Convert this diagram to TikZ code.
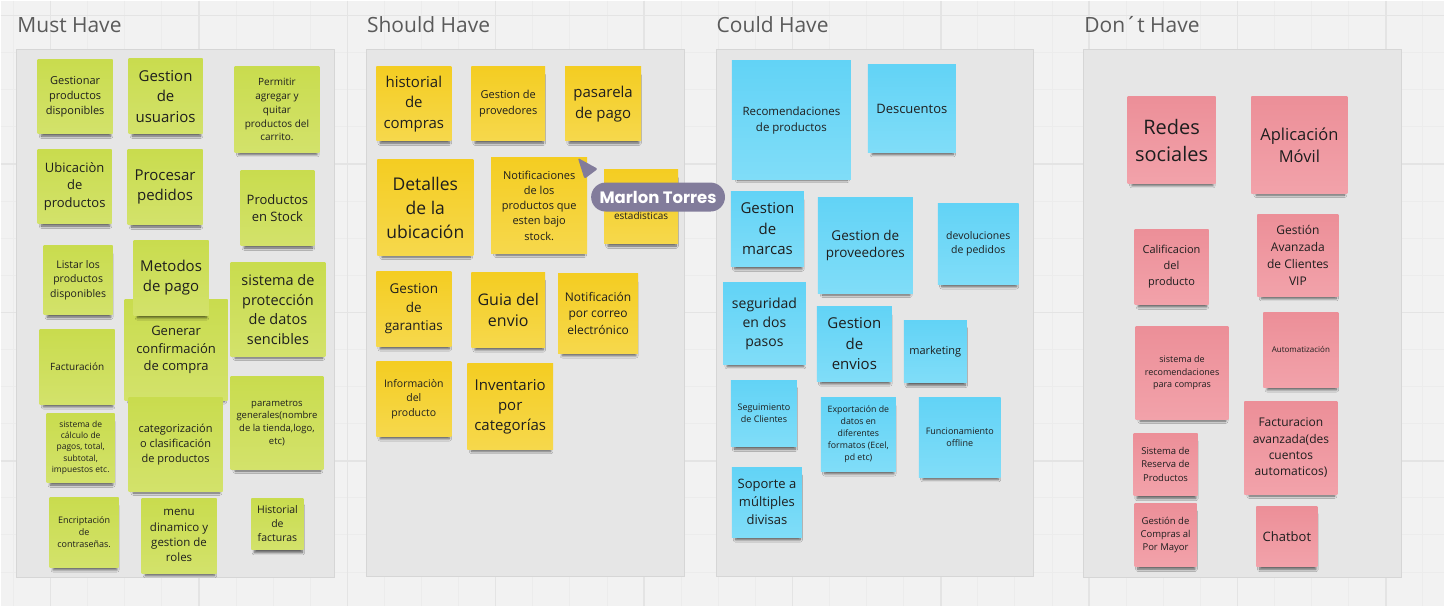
\documentclass[tikz,border=0pt]{standalone}
\usepackage{fontspec}
\setmainfont{Open Sans}
\newfontfamily\cursorfont{Poppins}
\usetikzlibrary{positioning, shadows.blur}
\definecolor{canvasGray}{HTML}{F2F2F2}
\definecolor{gridMinor}{HTML}{ECECEC}
\definecolor{gridMajor}{HTML}{E4E4E4}
\definecolor{panelGray}{HTML}{E6E6E6}
\definecolor{panelLine}{HTML}{D6D6D6}
\definecolor{headGray}{HTML}{5A5A5A}
\definecolor{inkDark}{HTML}{1E1E1E}
\definecolor{mustTop}{HTML}{C9DC4E}
\definecolor{mustBot}{HTML}{D3E26B}
\definecolor{shouldTop}{HTML}{F4CD22}
\definecolor{shouldBot}{HTML}{F6D84C}
\definecolor{couldTop}{HTML}{62D3F6}
\definecolor{couldBot}{HTML}{80DDF8}
\definecolor{dontTop}{HTML}{EC8F98}
\definecolor{dontBot}{HTML}{F2A2AA}
\definecolor{cursorPurple}{HTML}{827C9B}

\begin{document}
\begin{tikzpicture}[
    x=1pt, y=-1pt,
    panel/.style={rectangle, draw=panelLine, fill=panelGray, line width=1pt, minimum width=318, minimum height=528},
    heading/.style={font=\fontsize{21}{25}\selectfont, text=headGray, inner sep=0pt},
    sticky/.style={rectangle, align=center, text=inkDark, inner sep=1pt,
        blur shadow={shadow xshift=1pt, shadow yshift=-6pt, shadow scale=0.92, shadow opacity=60, shadow blur radius=2.5pt, shadow blur steps=8}},
    must/.style={sticky, top color=mustTop, bottom color=mustBot},
    should/.style={sticky, top color=shouldTop, bottom color=shouldBot},
    could/.style={sticky, top color=couldTop, bottom color=couldBot},
    dont/.style={sticky, top color=dontTop, bottom color=dontBot},
    dims/.style 2 args={minimum width=#1, minimum height=#2},
    fs/.style 2 args={font=\fontsize{#1}{#2}\selectfont}
]

\fill[canvasGray] (0,0) rectangle (1445,606);
\foreach \k in {0,...,38} \draw[gridMinor, line width=1pt] ({12.875+37.125*\k},0) -- ({12.875+37.125*\k},606);
\foreach \k in {0,...,15} \draw[gridMinor, line width=1pt] (0,{15+37.125*\k}) -- (1445,{15+37.125*\k});
\foreach \k in {0,...,9} \draw[gridMajor, line width=1.5pt] ({50+148.5*\k},0) -- ({50+148.5*\k},606);
\foreach \k in {0,...,3} \draw[gridMajor, line width=1.5pt] (0,{15+148.5*\k}) -- (1445,{15+148.5*\k});

\node[panel] (mustFrame) at (175,313) {};
\node[panel, minimum height=527] (shouldFrame) at (525,312.5) {};
\node[panel, minimum height=527] (couldFrame) at (875,312.5) {};
\node[panel] (dontFrame) at (1243,313) {};

\node[heading, above right=16pt and 1pt of mustFrame.north west] (mustTitle) {Must Have};
\node[heading, above right=16pt and 1pt of shouldFrame.north west] (shouldTitle) {Should Have};
\node[heading, above right=16pt and 1pt of couldFrame.north west] (couldTitle) {Could Have};
\node[heading, above right=16pt and 1pt of dontFrame.north west] (dontTitle) {Don´t Have};

% Must Have
\node[must, dims={75}{74}, fs={11}{15}] (gestionarProd) at (74.5,96) {Gestionar\\productos\\disponibles};
\node[must, dims={74}{75}, fs={15}{20.5}] (gestionUsuarios) at (165,95.5) {Gestion\\de\\usuarios};
\node[must, dims={85}{86}, fs={10}{13.8}] (carrito) at (276.5,109) {Permitir\\agregar y\\quitar\\productos del\\carrito.};
\node[must, dims={74}{74}, fs={13}{17.5}] (ubicacion) at (74,186) {Ubicaciòn\\de\\productos};
\node[must, dims={75}{75}, fs={15}{20}] (procesar) at (164.5,186.5) {Procesar\\pedidos};
\node[must, dims={74}{75}, fs={13}{17.7}] (stock) at (277,207.5) {Productos\\en Stock};
\node[must, dims={69}{69}, fs={10.5}{14.5}] (listar) at (77.5,279.5) {Listar los\\productos\\disponibles};
\node[must, dims={103}{101}, fs={13}{17.5}] (confirmacion) at (175.5,349.5) {Generar\\confirmación\\de compra};
\node[must, dims={75}{75}, fs={15}{20}] (metodosPago) at (170.5,277.5) {Metodos\\de pago};
\node[must, dims={95}{94}, fs={14.5}{19.5}] (proteccion) at (277.5,309) {sistema de\\protección\\de datos\\sencibles};
\node[must, dims={75}{75}, fs={10}{14}] (facturacion) at (76.5,366.5) {Facturación};
\node[must, dims={68}{69}, fs={8.5}{11.5}] (calculo) at (80,447.5) {sistema de\\cálculo de\\pagos, total,\\subtotal,\\impuestos etc.};
\node[must, dims={94}{94}, fs={11}{15}] (categorias) at (175,444) {categorización\\o clasificación\\de productos};
\node[must, dims={93}{93}, fs={9.5}{12.7}] (parametros) at (276.5,422.5) {parametros\\generales(nombre\\de la tienda,logo,\\etc)};
\node[must, dims={69}{70}, fs={9}{12.4}] (encriptacion) at (83.5,532) {Encriptación\\de\\contraseñas.};
\node[must, dims={75}{75}, fs={11.5}{15.5}] (menuRoles) at (178.5,535.5) {menu\\dinamico y\\gestion de\\roles};
\node[must, dims={52}{51}, fs={10.5}{14}] (historialFact) at (277,523.5) {Historial\\de\\facturas};

% Should Have
\node[should, dims={75}{74}, fs={15}{20.5}] (historialCompras) at (413.5,103) {historial\\de\\compras};
\node[should, dims={74}{74}, fs={11}{15.5}] (provedores) at (508,103) {Gestion de\\provedores};
\node[should, dims={76}{74}, fs={15}{21}] (pasarela) at (603,103) {pasarela\\de pago};
\node[should, dims={96}{96}, fs={17.5}{24}] (detalles) at (425,207) {Detalles\\de la\\ubicación};
\node[should, dims={96}{96}, fs={11}{15.3}] (bajoStock) at (539,205) {Notificaciones\\de los\\productos que\\esten bajo\\stock.};
\node[should, dims={74}{74}, fs={10}{13}] (estadisticas) at (641,206) {\mbox{}\\\mbox{}\\estadisticas};
\node[should, dims={75}{75}, fs={13.5}{18.5}] (garantias) at (413.5,308.5) {Gestion\\de\\garantias};
\node[should, dims={74}{75}, fs={16}{21.5}] (guiaEnvio) at (508,309.5) {Guia del\\envio};
\node[should, dims={80}{80}, fs={12}{16.5}] (correo) at (598,313) {Notificación\\por correo\\electrónico};
\node[should, dims={75}{75}, fs={10.5}{14.5}] (infoProducto) at (413.5,398.5) {Informaciòn\\del\\producto};
\node[should, dims={86}{86}, fs={15}{20}] (inventario) at (510,406) {Inventario\\por\\categorías};

% Could Have
\node[could, dims={119}{119}, fs={11.5}{16}] (recomendaciones) at (791.5,119.5) {Recomendaciones\\de productos};
\node[could, dims={88}{88}, fs={13}{17}] (descuentos) at (912,108) {Descuentos};
\node[could, dims={73}{75}, fs={15}{20.5}] (marcas) at (767.5,228.5) {Gestion\\de\\marcas};
\node[could, dims={95}{96}, fs={13.5}{18}] (proveedores) at (865.5,245) {Gestion de\\proveedores};
\node[could, dims={81}{81}, fs={10.5}{14}] (devoluciones) at (978.5,243.5) {devoluciones\\de pedidos};
\node[could, dims={83}{82}, fs={14}{19}] (seguridad) at (764.5,323) {seguridad\\en dos\\pasos};
\node[could, dims={75}{75}, fs={15}{20.5}] (envios) at (854.5,343.5) {Gestion\\de\\envios};
\node[could, dims={63}{62}, fs={11}{15}] (marketing) at (935.5,351) {marketing};
\node[could, dims={66}{66}, fs={9}{12.3}] (seguimiento) at (764,413) {Seguimiento\\de Clientes};
\node[could, dims={75}{74}, fs={8.8}{12}] (exportacion) at (858.5,434) {Exportación de\\datos en\\diferentes\\formatos (Ecel,\\pd etc)};
\node[could, dims={82}{80}, fs={9}{12}] (offline) at (960,437) {Funcionamiento\\offline};
\node[could, dims={70}{70}, fs={13}{18}] (divisas) at (767,502) {Soporte a\\múltiples\\divisas};

% Don't Have
\node[dont, dims={88}{87}, fs={20}{27}] (redes) at (1172,139.5) {Redes\\sociales};
\node[dont, dims={96}{97}, fs={16.5}{22}] (movil) at (1300,144.5) {Aplicación\\Móvil};
\node[dont, dims={74}{75}, fs={11}{16}] (calificacion) at (1172,266.5) {Calificacion\\del\\producto};
\node[dont, dims={81}{82}, fs={12}{17}] (clientesVip) at (1298.5,255) {Gestión\\Avanzada\\de Clientes\\VIP};
\node[dont, dims={93}{93}, fs={9}{12.5}] (sisRecomend) at (1182.5,372.5) {sistema de\\recomendaciones\\para compras};
\node[dont, dims={75}{75}, fs={8}{11}] (automatizacion) at (1301.5,349.5) {Automatización};
\node[dont, dims={93}{93}, fs={12}{16.3}] (factAvanzada) at (1291.5,447.5) {Facturacion\\avanzada(des\\cuentos\\automaticos)};
\node[dont, dims={64}{62}, fs={9.5}{13.3}] (reserva) at (1166,464) {Sistema de\\Reserva de\\Productos};
\node[dont, dims={62}{63}, fs={9.5}{13}] (porMayor) at (1166,534.5) {Gestión de\\Compras al\\Por Mayor};
\node[dont, dims={61}{60}, fs={13}{17}] (chatbot) at (1287.5,536) {Chatbot};

% cursor
\fill[cursorPurple, rounded corners=1.5pt] (577.7,157.3) -- (597.7,168.3) -- (584.3,178.3) -- cycle;
\node[fill=cursorPurple, rounded corners=14.5pt, minimum width=134, minimum height=29, inner sep=0pt,
    text=white, font=\cursorfont\bfseries\fontsize{16.5}{20}\selectfont] (marlon) at (658,196.5) {Marlon Torres};

\end{tikzpicture}
\end{document}
